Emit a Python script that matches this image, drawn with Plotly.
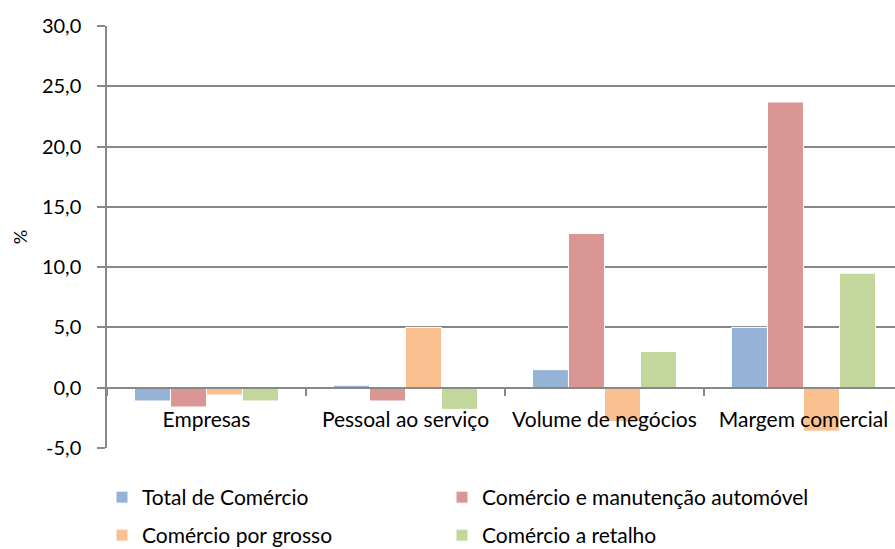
import plotly.graph_objects as go

categories = ["Empresas", "Pessoal ao serviço", "Volume de negócios", "Margem comercial"]
series_names = ["Total de Comércio", "Comércio e manutenção automóvel",
                "Comércio por grosso", "Comércio a retalho"]
total = [-1.1, 0.2, 1.5, 5.0]
automovel = [-1.6, -1.1, 12.8, 23.7]
grosso = [-0.6, 5.0, -2.8, -3.6]
retalho = [-1.1, -1.8, 3.0, 9.5]
y_ticks = [-5, 0, 5, 10, 15, 20, 25, 30]
y_tick_labels = ["-5,0", "0,0", "5,0", "10,0", "15,0", "20,0", "25,0", "30,0"]

colors = ["#95B3D7", "#D99694", "#FAC090", "#C3D69B"]
legend_ids = ["legend", "legend2", "legend3", "legend4"]
FONT = "Lato"

fig = go.Figure()
for name, vals, col, lg in zip(series_names, [total, automovel, grosso, retalho], colors, legend_ids):
    fig.add_trace(go.Bar(x=categories, y=vals, name=name, legend=lg,
                         marker=dict(color=col, line=dict(color="white", width=1))))

W, H = 895, 549
leg_common = dict(orientation="h", xref="container", yref="container",
                  xanchor="left", yanchor="top",
                  font=dict(family=FONT, size=21, color="black"),
                  itemwidth=30, bgcolor="rgba(0,0,0,0)")
col_x = [102, 442]
row_y = [477, 515]
fig.update_layout(
    width=W, height=H,
    margin=dict(l=107, r=0, t=26, b=101, autoexpand=False),
    paper_bgcolor="white", plot_bgcolor="white",
    barmode="group", bargap=0.276, bargroupgap=0,
    font=dict(family=FONT, color="black", size=19),
    showlegend=True,
    legend=dict(x=col_x[0] / W, y=1 - row_y[0] / H, **leg_common),
    legend2=dict(x=col_x[1] / W, y=1 - row_y[0] / H, **leg_common),
    legend3=dict(x=col_x[0] / W, y=1 - row_y[1] / H, **leg_common),
    legend4=dict(x=col_x[1] / W, y=1 - row_y[1] / H, **leg_common),
    xaxis=dict(type="category", range=[-0.5, 3.46],
               anchor="free", position=5 / 35,
               showline=True, linecolor="#888888", linewidth=1.5,
               ticks="outside", tickson="boundaries", ticklen=8,
               tickcolor="#888888", tickwidth=1.5,
               showgrid=False, tickfont=dict(family=FONT, size=21, color="black"),
               ticklabelstandoff=13, automargin=False),
    yaxis=dict(range=[-5, 30], tickvals=y_ticks, ticktext=y_tick_labels,
               showline=True, linecolor="#888888", linewidth=1.5,
               ticks="outside", ticklen=8, tickcolor="#888888", tickwidth=1.5,
               showgrid=True, gridcolor="#888888", gridwidth=1.5,
               zeroline=False, automargin=False,
               tickfont=dict(family=FONT, size=20, color="black"),
               ticklabelstandoff=12,
               title=dict(text="%", font=dict(family=FONT, size=18, color="black"),
                          standoff=10)),
)

fig.write_html("out.html", config={"displayModeBar": False},
               post_script="document.body.style.margin='0';")
